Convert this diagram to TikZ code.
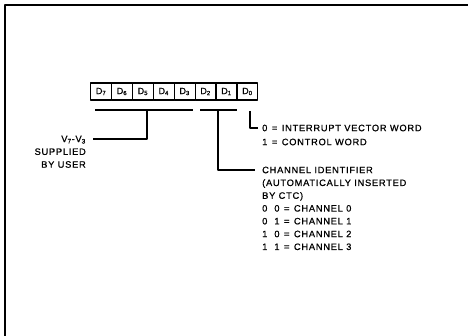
\documentclass[tikz,border=0pt]{standalone}
\usepackage{fontspec}
\setmainfont{Liberation Sans}[LetterSpace=8,FakeBold=0.7]
\newcommand{\eqsp}{\hspace{4.5pt}=\hspace{4.5pt}}
\begin{document}
\begin{tikzpicture}[x=1pt,y=-1pt,line join=round,
  bit/.style={draw,line width=1.2pt,minimum width=20.9pt,minimum height=17pt,inner sep=0pt,anchor=west,font=\fontsize{9}{9}\selectfont},
  lbl/.style={inner sep=0pt,font=\fontsize{9.3}{12.8}\selectfont},
  lead/.style={line width=1.2pt}]
\useasboundingbox (0,0) rectangle (468,336);
\draw[line width=1.5pt] (5,336) -- (5,5) -- (468,5);
\foreach \b [count=\i from 0] in {7,6,5,4,3,2,1,0}
  \node[bit] (d\b) at (90+20.9*\i,91.5) {D\textsubscript{\b}};
\coordinate (usrL) at (95,110);
\coordinate (usrR) at (193,110);
\coordinate (usrT) at (147,110);
\coordinate (usrE) at (93,139);
\coordinate (chL) at (200,110);
\coordinate (chR) at (237,110);
\coordinate (chT) at (218,110);
\coordinate (chE) at (255,170);
\coordinate (ivT) at (250,111);
\coordinate (ivE) at (258,128);
\draw[lead] (usrL) -- (usrR);
\draw[lead] (usrT) |- (usrE);
\draw[lead] (chL) -- (chR);
\draw[lead] (chT) |- (chE);
\draw[lead] (ivT) |- (ivE);
\node[lbl,anchor=north east,align=right] (user) at (86,135.5)
  {V\textsubscript{7}-V\textsubscript{3}\\SUPPLIED\\BY USER};
\node[lbl,anchor=north west,align=left] (ivw) at (262,124.5)
  {0\eqsp INTERRUPT VECTOR WORD\\[1.2pt]1\eqsp CONTROL WORD};
\node[lbl,anchor=north west,align=left] (chid) at (262,166.5)
  {CHANNEL IDENTIFIER\\(AUTOMATICALLY INSERTED\\BY CTC)\\
   0\hspace{7pt}0\eqsp CHANNEL 0\\0\hspace{7pt}1\eqsp CHANNEL 1\\
   1\hspace{7pt}0\eqsp CHANNEL 2\\1\hspace{7pt}1\eqsp CHANNEL 3};
\end{tikzpicture}
\end{document}
